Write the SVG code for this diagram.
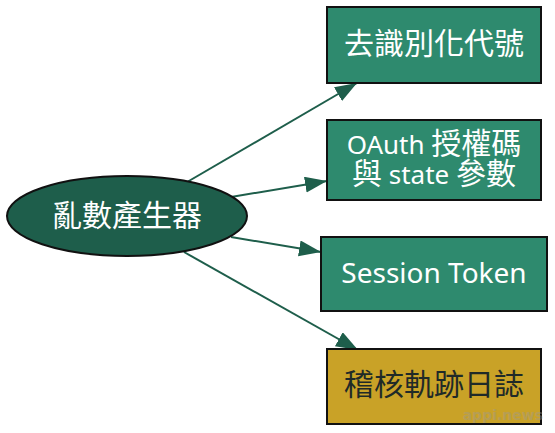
<svg xmlns="http://www.w3.org/2000/svg" width="555" height="433" viewBox="0 0 555 433">
<defs>
<style>
.box{fill:#2e8a6e;stroke:#111;stroke-width:2}
.gold{fill:#c9a227;stroke:#111;stroke-width:2}
.ell{fill:#1e5e4b;stroke:#111;stroke-width:2}
.edge{fill:none;stroke:#1e5e4b;stroke-width:2}
.t{font-family:"Noto Sans","Noto Sans CJK TC",sans-serif;font-size:28px;fill:#fff;text-anchor:middle}
.cjk{font-family:"Noto Sans CJK TC","Noto Sans",sans-serif;font-size:30px}
.sm{font-size:26px}
.dark{fill:#1f2a28}
</style>
<marker id="ah" markerUnits="userSpaceOnUse" markerWidth="24" markerHeight="18" refX="22" refY="8" orient="auto">
<path d="M0,0 L22,8 L0,16 z" fill="#1e5e4b"/>
</marker>
</defs>
<rect width="555" height="433" fill="#fff"/>
<g id="edges">
<path class="edge" d="M182,185 L357,83" marker-end="url(#ah)"/>
<path class="edge" d="M231,197 L327,181" marker-end="url(#ah)"/>
<path class="edge" d="M231,237 L321,252" marker-end="url(#ah)"/>
<path class="edge" d="M184,252 L358,350" marker-end="url(#ah)"/>
</g>
<g id="rng">
<ellipse class="ell" cx="127" cy="216" rx="120" ry="40"/>
<text class="t cjk" x="127" y="226">亂數產生器</text>
</g>
<g id="deid">
<rect class="box" x="327" y="7" width="214" height="76"/>
<text class="t cjk" x="434" y="54">去識別化代號</text>
</g>
<g id="oauth">
<rect class="box" x="327" y="120" width="214" height="80"/>
<text class="t sm" x="434" y="154">OAuth <tspan class="cjk" font-size="29">授權碼</tspan></text>
<text class="t sm" x="434" y="184"><tspan class="cjk" font-size="29">與</tspan> state <tspan class="cjk" font-size="29">參數</tspan></text>
</g>
<g id="session">
<rect class="box" x="321" y="237" width="226" height="74"/>
<text class="t" x="434" y="283">Session Token</text>
</g>
<g id="audit">
<rect class="gold" x="327" y="349" width="214" height="75"/>
<text class="t cjk dark" x="434" y="395">稽核軌跡日誌</text>
</g>
<text x="543" y="420" font-family="DejaVu Sans,sans-serif" font-weight="bold" font-size="14" fill="#999" opacity="0.4" text-anchor="end">appi.news</text>
</svg>
